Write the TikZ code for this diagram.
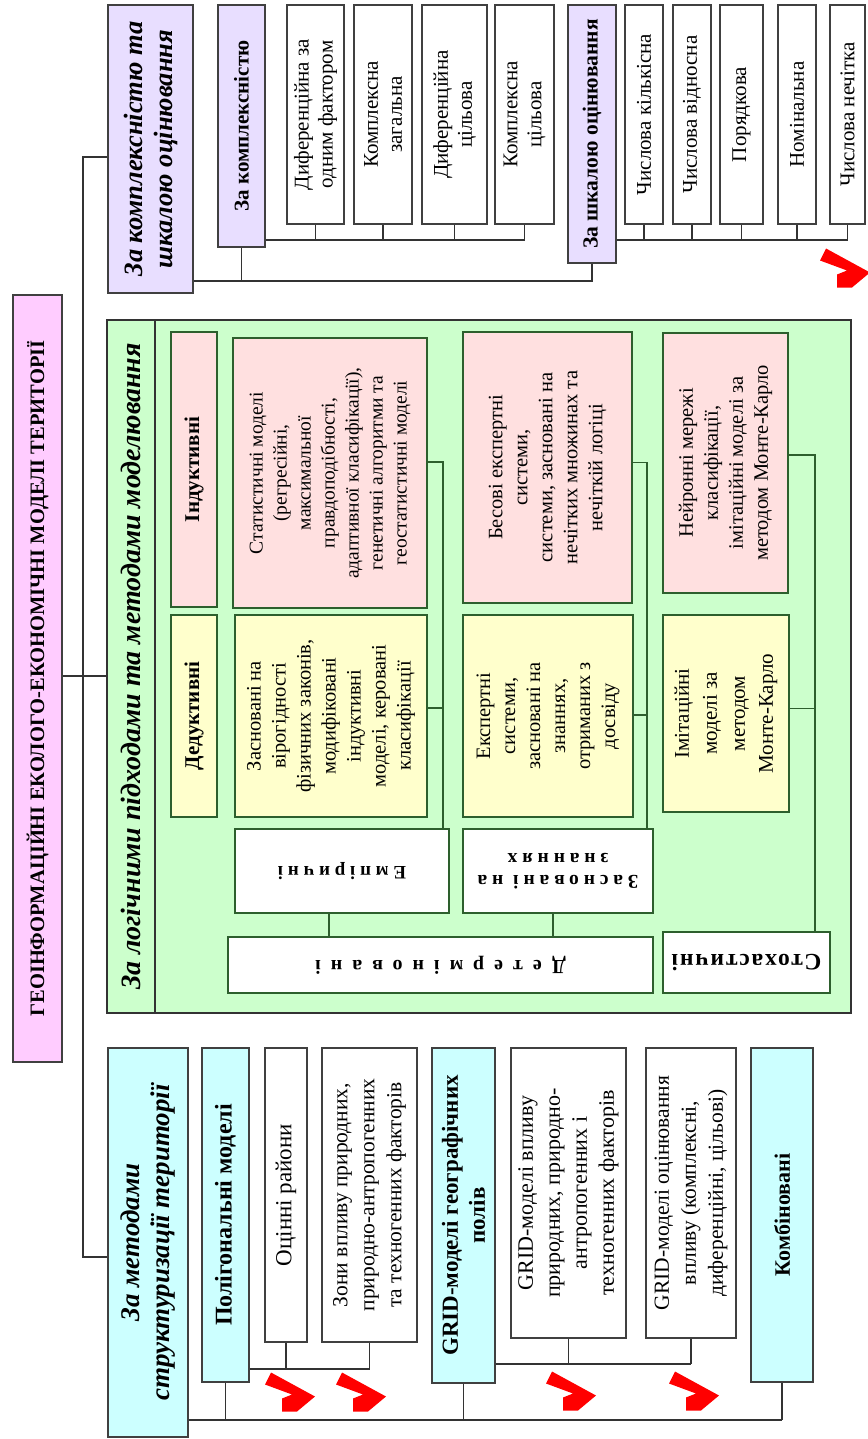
\documentclass[tikz,border=0pt]{standalone}
\usepackage{fontspec}
\setmainfont{Liberation Serif}
\newcommand{\fsz}[2]{\fontsize{#1}{#2}\selectfont}
\definecolor{geopink}{RGB}{255,204,255}
\definecolor{lilac}{RGB}{232,222,255}
\definecolor{skyfill}{RGB}{204,255,255}
\definecolor{greenfill}{RGB}{204,255,204}
\definecolor{rosefill}{RGB}{255,224,224}
\definecolor{lemonfill}{RGB}{255,255,204}
\definecolor{darkgreen}{RGB}{45,95,45}
\tikzset{
  box/.style={draw=black!75, line width=1.5pt, rotate=90, align=center, font=\fsz{21}{24}},
  gbox/.style={draw=darkgreen, line width=1.5pt, rotate=90, align=center, font=\fsz{20.5}{25}},
  flip/.style={draw=darkgreen, line width=1.5pt, fill=white, rotate=180, align=center},
  conn/.style={draw=black!80, line width=1.4pt},
  gconn/.style={draw=darkgreen, line width=1.4pt},
  redtick/.pic={\fill[red] (-19,19.5) -- (25,-4.5) -- (7,-19.5) -- (-8,-19.5) -- (-8,-6.5) -- (2,-2.5) -- (-25,7.5) -- cycle;}
}
\begin{document}
\begin{tikzpicture}[x=1pt,y=1pt]
	\tikzstyle{every node}+=[inner sep=1pt]
	\useasboundingbox (0,0) rectangle (867,-1439);
	% title and spine
	\node [box, fill=geopink, minimum width=767pt, minimum height=49pt, font=\bfseries\fsz{20.5}{24}] (geo) at (37.5,-678.5) {ГЕОІНФОРМАЦІЙНІ ЕКОЛОГО-ЕКОНОМІЧНІ МОДЕЛІ ТЕРИТОРІЇ};
	\coordinate (spine) at (83,0);
	% complexity and scale
	\node [box, fill=lilac, minimum width=288pt, minimum height=85pt, font=\bfseries\itshape\fsz{26.5}{30}] (critA) at (150.5,-149) {За комплексністю та\\шкалою оцінювання};
	\node [box, fill=lilac, minimum width=242pt, minimum height=47pt, font=\bfseries\fsz{21}{22}] (complex) at (241.5,-126) {За комплексністю};
	\node [box, minimum width=219pt, minimum height=57pt] (c1) at (315.5,-114.5) {Диференційна за\\одним фактором};
	\node [box, minimum width=219pt, minimum height=58pt] (c2) at (383,-114.5) {Комплексна\\загальна};
	\node [box, minimum width=219pt, minimum height=65pt] (c3) at (454.5,-114.5) {Диференційна\\цільова};
	\node [box, minimum width=219pt, minimum height=59pt] (c4) at (524.5,-114.5) {Комплексна\\цільова};
	\node [box, fill=lilac, minimum width=258pt, minimum height=48pt, font=\bfseries\fsz{21.5}{22}] (scl) at (592,-134) {За шкалою оцінювання};
	\node [box, minimum width=219pt, minimum height=38pt, font=\fsz{21}{22}] (s1) at (644,-114.5) {Числова кількісна};
	\node [box, minimum width=219pt, minimum height=38pt, font=\fsz{21}{22}] (s2) at (692,-114.5) {Числова відносна};
	\node [box, minimum width=219pt, minimum height=43pt, font=\fsz{21}{22}] (s3) at (741.5,-114.5) {Порядкова};
	\node [box, minimum width=219pt, minimum height=38pt, font=\fsz{21}{22}] (s4) at (797,-114.5) {Номінальна};
	\node [box, minimum width=219pt, minimum height=35pt, font=\fsz{21}{22}] (s5) at (847.5,-114.5) {Числова нечітка};
	\coordinate (busA) at (0,-240);
	\coordinate (busB) at (0,-281);
	\draw [conn] (complex.south |- busA) -- (c4.west |- busA);
	\draw [conn] (scl.south |- busA) -- (s5.west |- busA);
	\foreach \n in {c1,c2,c3,c4,s1,s2,s3,s4,s5}
		\draw [conn] (\n.west) -- (\n.west |- busA);
	\draw [conn] (critA.south |- busB) -- (scl.west |- busB) -- (scl.west);
	\draw [conn] (complex.west) -- (complex.west |- busB);
	\pic at (845,-268) {redtick};
	% logical approaches
	\node [draw=black!80, line width=1.6pt, fill=greenfill, minimum width=744pt, minimum height=693pt] (green) at (479,-666.5) {};
	\draw [conn] (155,-320) -- (155,-1013);
	\node [rotate=90, font=\bfseries\itshape\fsz{28}{30}] (logic) at (131,-666.5) {За логічними підходами та методами моделювання};
	\node [gbox, fill=rosefill, minimum width=275pt, minimum height=46pt, font=\bfseries\fsz{21}{24}] (ind) at (194,-469.5) {Індуктивні};
	\node [gbox, fill=lemonfill, minimum width=202pt, minimum height=46pt, font=\bfseries\fsz{21}{24}] (ded) at (194,-716) {Дедуктивні};
	\node [gbox, fill=rosefill, minimum width=270pt, minimum height=194pt, font=\fsz{19.5}{24}] (stat) at (330,-473) {Статистичні моделі\\(регресійні,\\максимальної\\правдоподібності,\\адаптивної класифікації),\\генетичні алгоритми та\\геостатистичні моделі};
	\node [gbox, fill=lemonfill, minimum width=202pt, minimum height=192pt] (zasn) at (331,-716) {Засновані на\\вірогідності\\фізичних законів,\\модифіковані\\індуктивні\\моделі, керовані\\класифікації};
	\node [gbox, fill=rosefill, minimum width=271pt, minimum height=169pt] (bes) at (547.5,-467.5) {Бесові експертні\\системи,\\системи, засновані на\\нечітких множинах та\\нечіткій логіці};
	\node [gbox, fill=lemonfill, minimum width=202pt, minimum height=170pt] (expt) at (548,-716) {Експертні\\системи,\\засновані на\\знаннях,\\отриманих з\\досвіду};
	\node [gbox, fill=rosefill, minimum width=260pt, minimum height=125pt] (neur) at (725.5,-463) {Нейронні мережі\\класифікації,\\імітаційні моделі за\\методом Монте-Карло};
	\node [gbox, fill=lemonfill, minimum width=197pt, minimum height=126pt, font=\fsz{21}{28}] (imit) at (726,-713.5) {Імітаційні\\моделі за\\методом\\Монте-Карло};
	\node [flip, minimum width=214pt, minimum height=84pt, font=\bfseries\fsz{19}{22}\addfontfeature{LetterSpace=25}] (emp) at (342,-871) {Емпіричні};
	\node [flip, minimum width=190pt, minimum height=84pt, font=\bfseries\fsz{19.5}{22}\addfontfeature{LetterSpace=25}] (know) at (558,-871) {Засновані на\\знаннях};
	\node [flip, minimum width=425pt, minimum height=56pt, font=\bfseries\fsz{20}{24}\addfontfeature{LetterSpace=50}] (det) at (440.5,-965) {Детерміновані};
	\node [flip, minimum width=167pt, minimum height=61pt, font=\bfseries\fsz{23.5}{24}\addfontfeature{LetterSpace=8}] (stoch) at (746.5,-962.5) {Стохастичні};
	\coordinate (jA) at (443,0);
	\coordinate (jB) at (647,0);
	\coordinate (jC) at (815,0);
	\draw [gconn] ([yshift=11pt]stat.south) -| (jA |- emp.south);
	\draw [gconn] ([yshift=8pt]zasn.south) -- ([yshift=8pt]zasn.south -| jA);
	\draw [gconn] ([yshift=5pt]bes.south) -| (jB |- know.south);
	\draw [gconn] ([yshift=1pt]expt.south) -- ([yshift=1pt]expt.south -| jB);
	\draw [gconn] ([yshift=8pt]neur.south) -| (jC |- stoch.south);
	\draw [gconn] ([yshift=5pt]imit.south) -- ([yshift=5pt]imit.south -| jC);
	\draw [gconn] ([xshift=-13pt]emp.north) -- ([xshift=-13pt]emp.north |- det.south);
	\draw [gconn] ([xshift=-5pt]know.north) -- ([xshift=-5pt]know.north |- det.south);
	% structuring methods
	\node [box, fill=skyfill, minimum width=389pt, minimum height=80pt, font=\bfseries\itshape\fsz{27}{30}] (metod) at (148,-1242.5) {За методами\\структуризації території};
	\node [box, fill=skyfill, minimum width=334pt, minimum height=47pt, font=\bfseries\fsz{24}{27}] (poly) at (225.5,-1215) {Полігональні моделі};
	\node [box, minimum width=294pt, minimum height=42pt, font=\fsz{23}{27}] (ocin) at (286,-1195) {Оцінні райони};
	\node [box, minimum width=294pt, minimum height=95pt, font=\fsz{21.5}{27}] (zony) at (369.5,-1195) {Зони впливу природних,\\природно-антропогенних\\та техногенних факторів};
	\node [box, fill=skyfill, minimum width=335pt, minimum height=63pt, font=\bfseries\fsz{23}{27}] (grid) at (463.5,-1215.5) {GRID-моделі географічних\\полів};
	\node [box, minimum width=290pt, minimum height=115pt, font=\fsz{22}{27}] (gv) at (568.5,-1193) {GRID-моделі впливу\\природних, природно-\\антропогенних і\\техногенних факторів};
	\node [box, minimum width=290pt, minimum height=90pt, font=\fsz{21.5}{27}] (gom) at (691,-1193) {GRID-моделі оцінювання\\впливу (комплексні,\\диференційні, цільові)};
	\node [box, fill=skyfill, minimum width=334pt, minimum height=62pt, font=\bfseries\fsz{22}{27}] (komb) at (782,-1215) {Комбіновані};
	\coordinate (busC) at (0,-1369);
	\coordinate (busD) at (0,-1364);
	\coordinate (busE) at (0,-1420);
	\draw [conn] (poly.south |- busC) -- (zony.west |- busC);
	\draw [conn] (grid.south |- busD) -- (gom.west |- busD);
	\foreach \n in {ocin,zony}
		\draw [conn] (\n.west) -- (\n.west |- busC);
	\foreach \n in {gv,gom}
		\draw [conn] (\n.west) -- (\n.west |- busD);
	\draw [conn] (metod.south |- busE) -- (komb.west |- busE);
	\foreach \n in {poly,grid,komb}
		\draw [conn] (\n.west) -- (\n.west |- busE);
	\pic at (290,-1392) {redtick};
	\pic at (361,-1392) {redtick};
	\pic at (571,-1391) {redtick};
	\pic at (694,-1391) {redtick};
	% spine links
	\draw [conn] ([yshift=-8pt]critA.north) -- ([yshift=-8pt]critA.north -| spine) -- ([yshift=-14.5pt]metod.north -| spine) -- ([yshift=-14.5pt]metod.north);
	\draw [conn] ([yshift=2.5pt]geo.south) -- ([yshift=2.5pt]geo.south -| green.west);
\end{tikzpicture}
\end{document}
